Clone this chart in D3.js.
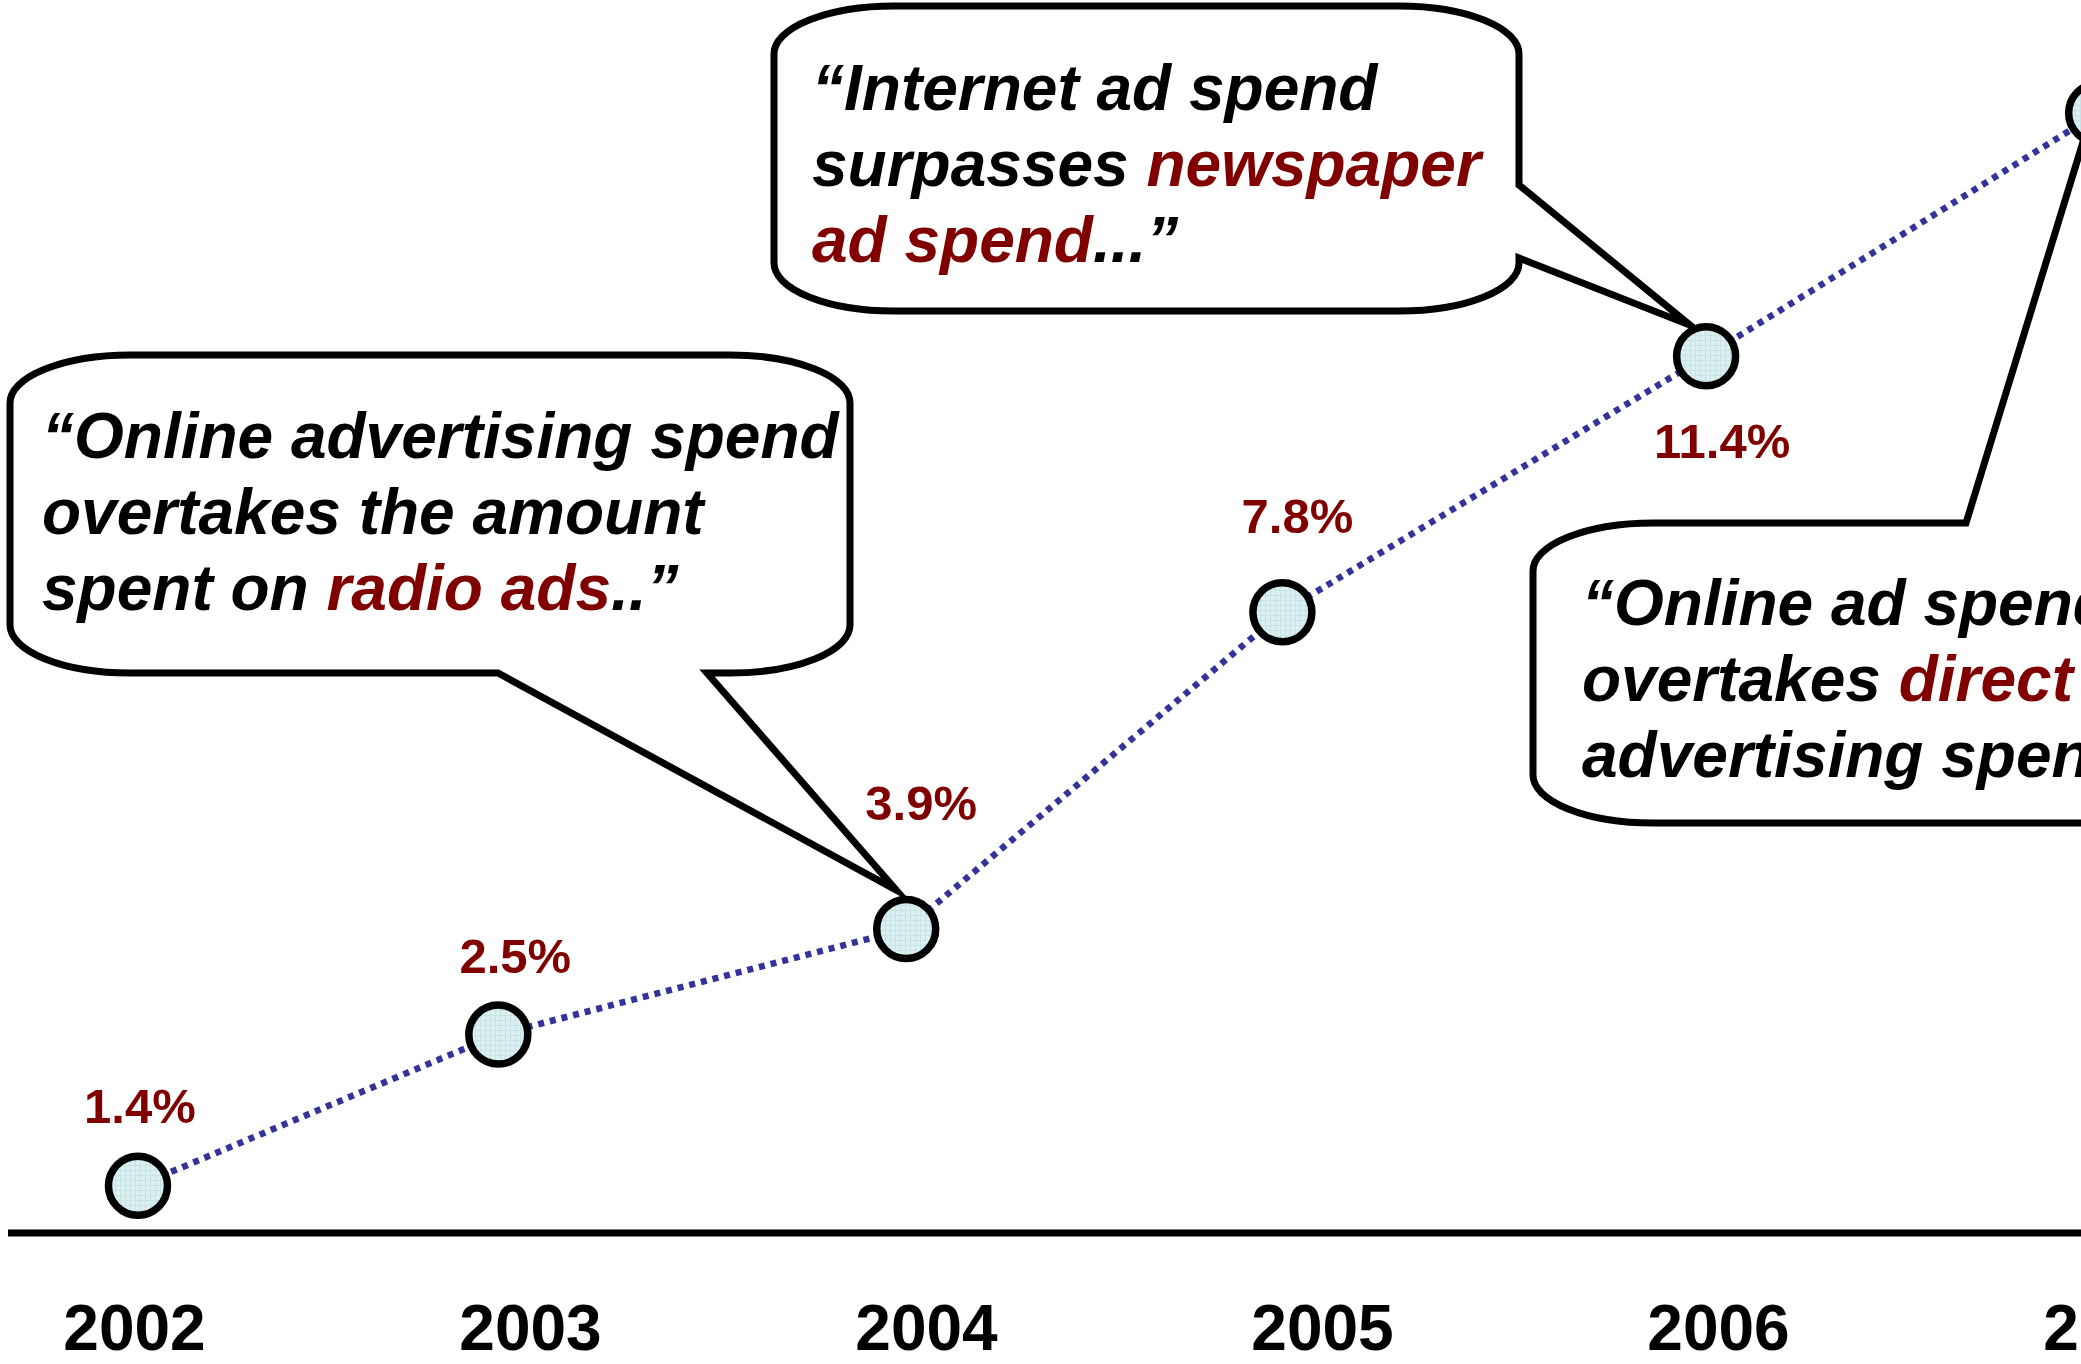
<!DOCTYPE html>
<html>
<head>
<meta charset="utf-8">
<script src="https://cdn.jsdelivr.net/npm/d3@7"></script>
<style>
  html, body { margin: 0; padding: 0; background: #fff; }
  svg { display: block; }
  text { font-family: "Liberation Sans", Arial, Helvetica, sans-serif; font-weight: bold; }
</style>
</head>
<body>
<svg id="mainSvg"></svg>
<script>
// ---- data ----
const years = [2002, 2003, 2004, 2005, 2006, 2007];
// where each marker sits along the year axis (markers are not exactly over their year)
const pointTime = [2002.01, 2002.92, 2003.95, 2004.9, 2005.97, 2006.96];
// marker heights (not plotted to scale with their labels)
const pointLevel = [0.59, 2.48, 3.8, 7.76, 10.96, 14.0];
// share of ad spend printed next to each marker (2007 label is off the slide)
const shareValues = [1.4, 2.5, 3.9, 7.8, 11.4, null];

// callout texts: [text, highlighted]
const quoteRadio = [
    [["\u201COnline advertising spend", false]],
    [["overtakes the amount", false]],
    [["spent on ", false], ["radio ads", true], ["..\u201D", false]]
];
const quoteNewspaper = [
    [["\u201CInternet ad spend", false]],
    [["surpasses ", false], ["newspaper", true]],
    [["ad spend", true], ["...\u201D", false]]
];
const quoteDirect = [
    [["\u201COnline ad spend", false]],
    [["overtakes ", false], ["direct", true]],
    [["advertising spend", false]]
];

// ---- layout ----
const style = {
    W: 2081, H: 1364,
    red: "#800000",
    navy: "#333399",
    lineH: 76,
    corner: { rx: 120, ry: 48 },
    labelOffset: [[2, -63], [17, -62], [15, -109], [15, -79], [16, 102]],
};

const callouts = [
    { lines: quoteRadio, box: [10, 355, 850, 673], side: "bottom", base: [498, 707], at: 2, tipOff: [-10, -39], textX: 42, firstBase: 458 },
    { lines: quoteNewspaper, box: [774, 6, 1519, 311], side: "right", base: [185, 258], at: 4, tipOff: [-16, -31], textX: 812, firstBase: 110 },
    { lines: quoteDirect, box: [1533, 523, 2700, 823], side: "top", base: [1966, 2200], at: 5, tipOff: [-13, 22], textX: 1582, firstBase: 625 },
];

const svg = d3.select('#mainSvg')
    .attr("width", style.W)
    .attr("height", style.H);

svg.append("rect").attr("width", style.W).attr("height", style.H).attr("fill", "#fff");

const x = d3.scaleLinear().domain([2002, 2007]).range([134, 2114]);
const y = d3.scaleLinear().domain([0, 15]).range([1233, 33]);

const pts = pointTime.map((t, i) => ({ t: t, level: pointLevel[i], share: shareValues[i] }));

// fill texture of the markers
const pat = svg.append("defs").append("pattern")
    .attr("id", "dotFill")
    .attr("width", 5).attr("height", 5)
    .attr("patternUnits", "userSpaceOnUse");
pat.append("rect").attr("width", 5).attr("height", 5).attr("fill", "#dcf0f1");
pat.append("path").attr("d", "M0,0.5H5M0.5,0V5")
    .attr("stroke", "#c6e3e6").attr("stroke-width", 1);

function calloutPath(c, tip) {
    const [x0, y0, x1, y1] = c.box;
    const { rx, ry } = style.corner;
    const [b0, b1] = c.base;
    const [tx, ty] = tip;
    let s = `M${x0 + rx},${y0}`;
    if (c.side === "top") s += `L${b0},${y0}L${tx},${ty}L${b1},${y0}`;
    s += `L${x1 - rx},${y0}A${rx},${ry} 0 0 1 ${x1},${y0 + ry}`;
    if (c.side === "right") s += `L${x1},${b0}L${tx},${ty}L${x1},${b1}`;
    s += `L${x1},${y1 - ry}A${rx},${ry} 0 0 1 ${x1 - rx},${y1}`;
    if (c.side === "bottom") s += `L${b1},${y1}L${tx},${ty}L${b0},${y1}`;
    s += `L${x0 + rx},${y1}A${rx},${ry} 0 0 1 ${x0},${y1 - ry}`;
    s += `L${x0},${y0 + ry}A${rx},${ry} 0 0 1 ${x0 + rx},${y0}Z`;
    return s;
}

// callout bubbles
const bubbles = svg.append("g").attr("id", "callouts")
    .selectAll("g")
    .data(callouts)
    .join("g");

bubbles.append("path")
    .attr("d", c => {
        const p = pts[c.at];
        return calloutPath(c, [x(p.t) + c.tipOff[0], y(p.level) + c.tipOff[1]]);
    })
    .attr("fill", "#fff")
    .attr("stroke", "#000")
    .attr("stroke-width", 7)
    .attr("stroke-linejoin", "miter")
    .attr("stroke-miterlimit", 12);

bubbles.each(function (c) {
    const g = d3.select(this);
    c.lines.forEach((line, i) => {
        const t = g.append("text")
            .attr("x", c.textX)
            .attr("y", c.firstBase + i * style.lineH)
            .attr("font-size", 64)
            .attr("font-style", "italic");
        line.forEach(([str, hot]) => {
            t.append("tspan").text(str).attr("fill", hot ? style.red : "#000");
        });
    });
});

// axis line
svg.append("line")
    .attr("x1", 8).attr("x2", style.W)
    .attr("y1", y(0)).attr("y2", y(0))
    .attr("stroke", "#000")
    .attr("stroke-width", 7);

// year labels
const xAxis = d3.axisBottom(x)
    .tickValues(years)
    .tickFormat(d3.format("d"))
    .tickSize(0)
    .tickPadding(72);

const axG = svg.append("g")
    .attr("transform", `translate(0,${y(0)})`)
    .call(xAxis);
axG.select(".domain").remove();
axG.attr("font-size", 64);
axG.selectAll("text").attr("fill", "#000");

// dotted trend line
const line = d3.line().x(d => x(d.t)).y(d => y(d.level));
svg.append("path")
    .datum(pts)
    .attr("d", line)
    .attr("fill", "none")
    .attr("stroke", style.navy)
    .attr("stroke-width", 6.5)
    .attr("stroke-dasharray", "6 6");

// markers
svg.append("g").selectAll("circle")
    .data(pts)
    .join("circle")
    .attr("cx", d => x(d.t))
    .attr("cy", d => y(d.level))
    .attr("r", 29.5)
    .attr("fill", "url(#dotFill)")
    .attr("stroke", "#000")
    .attr("stroke-width", 7.5);

// share labels
const fmt = d => d3.format(".1f")(d) + "%";
svg.append("g").selectAll("text")
    .data(pts.filter(d => d.share !== null))
    .join("text")
    .attr("x", (d, i) => x(d.t) + style.labelOffset[i][0])
    .attr("y", (d, i) => y(d.level) + style.labelOffset[i][1])
    .attr("text-anchor", "middle")
    .attr("font-size", 49)
    .attr("fill", style.red)
    .text(d => fmt(d.share));
</script>
</body>
</html>
